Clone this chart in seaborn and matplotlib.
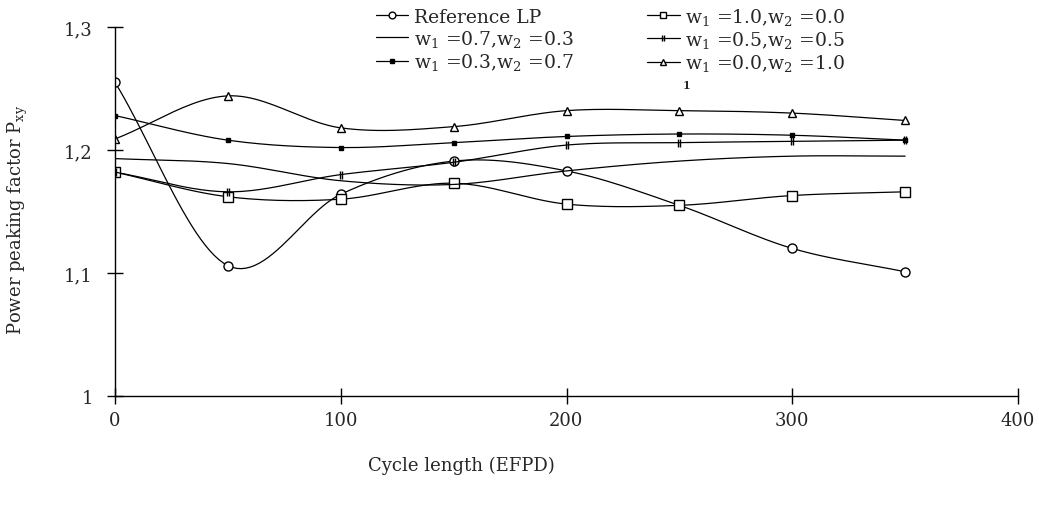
import numpy as np
import pandas as pd
import matplotlib.pyplot as plt
import seaborn as sns
from matplotlib.lines import Line2D
from matplotlib.path import Path

# values
cycle = [0, 50, 100, 150, 200, 250, 300, 350]
ref_lp = [1.255, 1.106, 1.164, 1.191, 1.183, 1.155, 1.120, 1.101]
w10 = [1.182, 1.162, 1.160, 1.173, 1.156, 1.155, 1.163, 1.166]
w07 = [1.193, 1.189, 1.175, 1.172, 1.183, 1.191, 1.195, 1.195]
w05 = [1.182, 1.166, 1.180, 1.190, 1.204, 1.206, 1.207, 1.208]
w03 = [1.228, 1.208, 1.202, 1.206, 1.211, 1.213, 1.212, 1.208]
w00 = [1.209, 1.244, 1.218, 1.219, 1.232, 1.232, 1.230, 1.224]

labels = ['Reference LP', 'w$_1$ =1.0,w$_2$ =0.0', 'w$_1$ =0.7,w$_2$ =0.3',
          'w$_1$ =0.5,w$_2$ =0.5', 'w$_1$ =0.3,w$_2$ =0.7', 'w$_1$ =0.0,w$_2$ =1.0']

sns.set_style('ticks')
plt.rcParams['font.family'] = ['DejaVu Serif']
plt.rcParams['mathtext.fontset'] = 'custom'
plt.rcParams['mathtext.rm'] = 'DejaVu Serif'
plt.rcParams['mathtext.it'] = 'DejaVu Serif'

# double tick marker for the w1=0.5 series
ticks2 = Path([(-0.35, -1), (-0.35, 1), (0.35, -1), (0.35, 1)],
              [Path.MOVETO, Path.LINETO, Path.MOVETO, Path.LINETO])

styles = [
    dict(marker='o', ms=6.5, mfc='white'),
    dict(marker='s', ms=6.5, mfc='white'),
    dict(marker='None'),
    dict(marker=ticks2, ms=6, mew=1.0),
    dict(marker='s', ms=3.5, mfc='black'),
    dict(marker='^', ms=6, mfc='white'),
]


def smooth(x, y, n=25):
    # Catmull-Rom curve through the points, like Excel's smoothed lines
    x = np.asarray(x, float)
    y = np.asarray(y, float)
    px = np.r_[2 * x[0] - x[1], x, 2 * x[-1] - x[-2]]
    py = np.r_[2 * y[0] - y[1], y, 2 * y[-1] - y[-2]]
    xs, ys = [], []
    t = np.linspace(0, 1, n, endpoint=False)
    for i in range(1, len(px) - 2):
        for p, out in ((px, xs), (py, ys)):
            p0, p1, p2, p3 = p[i - 1], p[i], p[i + 1], p[i + 2]
            out.extend(0.5 * (2 * p1 + (-p0 + p2) * t + (2 * p0 - 5 * p1 + 4 * p2 - p3) * t ** 2
                              + (-p0 + 3 * p1 - 3 * p2 + p3) * t ** 3))
    xs.append(x[-1])
    ys.append(y[-1])
    return pd.DataFrame({'x': xs, 'y': ys})


fig = plt.figure(figsize=(10.39, 5.06), dpi=100)
ax = fig.add_axes([115 / 1039, 1 - 397 / 506, 903 / 1039, 369 / 506])

series = [ref_lp, w10, w07, w05, w03, w00]
handles = []
for vals, st in zip(series, styles):
    sns.lineplot(data=smooth(cycle, vals), x='x', y='y', ax=ax, color='black',
                 lw=0.9, estimator=None, sort=False)
    if st['marker'] != 'None':
        ax.plot(cycle, vals, ls='none', color='black', mec='black', **st)
    handles.append(Line2D([], [], color='black', lw=0.9, mec='black', **st))

ax.set_xlim(0, 400)
ax.set_ylim(1.0, 1.3)
ax.set_xticks([0, 100, 200, 300, 400])
ax.set_yticks([1.0, 1.1, 1.2, 1.3])
ax.set_yticklabels(['1', '1,1', '1,2', '1,3'])
ax.set_xlabel('')
ax.set_ylabel('')
ax.tick_params(axis='both', direction='inout', length=12, width=1, color='black',
               labelsize=13)
ax.tick_params(axis='y', pad=10)
ax.tick_params(axis='x', pad=5)
sns.despine(ax=ax)
for s in ['left', 'bottom']:
    ax.spines[s].set_linewidth(1.0)
    ax.spines[s].set_color('black')

# stray mark under the legend in the original
ax.text(253, 1.253, '1', fontsize=8, ha='center', va='center', fontweight='bold')

order = [0, 2, 4, 1, 3, 5]
fig.legend([handles[i] for i in order], [labels[i] for i in order], ncol=2,
           loc='upper left', bbox_to_anchor=(369 / 1039, 1.0), frameon=False,
           fontsize=13.5, handlelength=1.75, handletextpad=0.3, columnspacing=3.9,
           labelspacing=0.12, borderpad=0.25, borderaxespad=0.1, markerscale=0.75)

fig.text(461 / 1039, 1 - 466 / 506, 'Cycle length (EFPD)', fontsize=13,
         ha='center', va='center')
fig.text(18 / 1039, 1 - 220 / 506, 'Power peaking factor P$_{\\mathrm{xy}}$',
         fontsize=13, rotation=90, ha='center', va='center')

fig.savefig('out.png', dpi=100)
